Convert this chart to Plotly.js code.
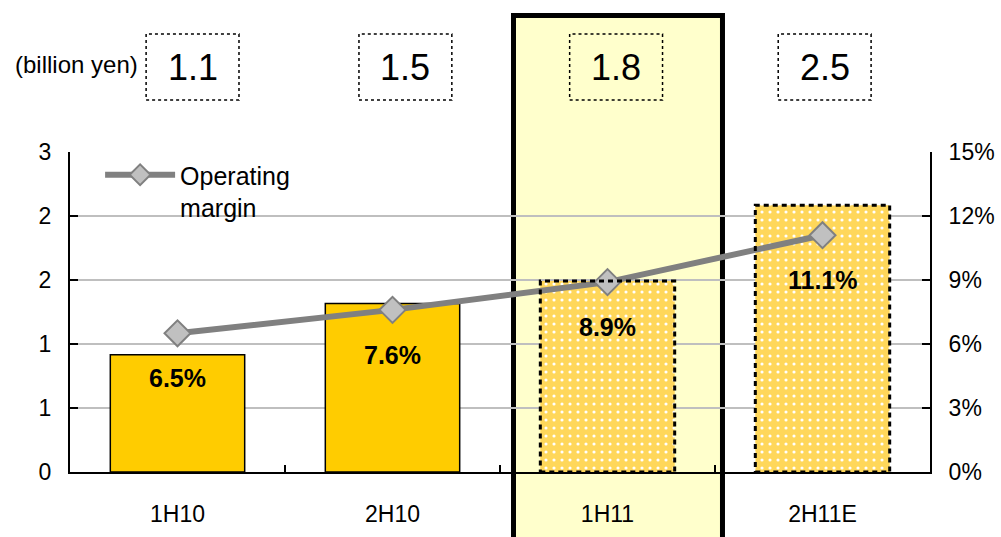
<!DOCTYPE html>
<html>
<head>
<meta charset="utf-8">
<script src="https://cdn.plot.ly/plotly-3.0.1.min.js"></script>
<style>html,body{margin:0;padding:0;background:#fff;}#chart{width:1001px;height:537px;}</style>
</head>
<body>
<div id="chart"></div>
<script>
// ---- data ----
const categories = ["1H10", "2H10", "1H11", "2H11E"];
const operatingProfit = [1.1, 1.58, 1.79, 2.5];      // bars (billion yen, left axis)
const operatingMargin = [6.5, 7.6, 8.9, 11.1];        // line (%, right axis)
const boxLabels = ["1.1", "1.5", "1.8", "2.5"];       // boxed values above chart
const forecastFlags = [false, false, true, true];     // patterned bars

// ---- layout constants ----
const FONT = "Liberation Sans, Arial, sans-serif";
const BAR_W = 0.625;
const boxOffsets = [0.07, 0.06, 0.04, 0.01];
const BOX_HALF_W = 0.216;

const solidIdx = [], patIdx = [];
forecastFlags.forEach((f, i) => (f ? patIdx : solidIdx).push(i));

const traces = [
  {
    type: "bar",
    x: solidIdx.map(i => categories[i]),
    y: solidIdx.map(i => operatingProfit[i]),
    width: BAR_W,
    marker: { color: "#FFCC00", line: { color: "#000", width: 1.5 } },
    showlegend: false, hoverinfo: "skip"
  },
  {
    type: "bar",
    x: patIdx.map(i => categories[i]),
    y: patIdx.map(i => operatingProfit[i]),
    width: BAR_W,
    marker: {
      color: "#FFD75A",
      line: { width: 0 },
      pattern: { shape: ".", fgcolor: "#FFFFFF", bgcolor: "#FFD75A", size: 8, solidity: 0.12 }
    },
    showlegend: false, hoverinfo: "skip"
  },
  {
    type: "scatter",
    mode: "lines+markers",
    name: "Operating<br>margin",
    x: categories,
    y: operatingMargin,
    yaxis: "y2",
    line: { color: "#808080", width: 6 },
    marker: { symbol: "diamond", size: 20, color: "#C0C0C0", line: { color: "#808080", width: 2 } },
    hoverinfo: "skip"
  }
];

const shapes = [
  // highlight column for 1H11
  { type: "rect", xref: "paper", yref: "paper", x0: 0.5157, x1: 0.7587, y0: -0.25, y1: 1.4266,
    fillcolor: "#FFFFCC", line: { color: "#000", width: 5 }, layer: "below" }
];
// dashed outlines for forecast bars
patIdx.forEach(i => {
  shapes.push({ type: "rect", xref: "x", yref: "y",
    x0: i - BAR_W / 2, x1: i + BAR_W / 2, y0: 0, y1: operatingProfit[i],
    line: { color: "#000", width: 3, dash: "5px,4px" }, fillcolor: "rgba(0,0,0,0)", layer: "above" });
});
// dotted boxes above chart
boxLabels.forEach((b, i) => {
  const c = i + boxOffsets[i];
  shapes.push({ type: "rect", xref: "x", yref: "paper",
    x0: c - BOX_HALF_W, x1: c + BOX_HALF_W, y0: 1.1625, y1: 1.369,
    line: { color: "#000", width: 1.5, dash: "dot" }, fillcolor: "rgba(0,0,0,0)", layer: "above" });
});

const annotations = [];
boxLabels.forEach((b, i) => {
  annotations.push({ xref: "x", yref: "paper", x: i + boxOffsets[i], y: 1.2656,
    text: b, showarrow: false, font: { family: FONT, size: 36, color: "#000" },
    xanchor: "center", yanchor: "middle" });
});
operatingMargin.forEach((m, i) => {
  annotations.push({ xref: "x", yref: "y2", x: i, y: m, yshift: -45,
    text: "<b>" + m.toFixed(1) + "%</b>", showarrow: false,
    font: { family: FONT, size: 25, color: "#000" }, xanchor: "center", yanchor: "middle" });
});
annotations.push({ xref: "paper", yref: "paper", x: 0.0814, y: 1.272, xanchor: "right", yanchor: "middle",
  text: "(billion yen)", showarrow: false, font: { family: FONT, size: 24, color: "#000" } });

const layout = {
  width: 1001, height: 537,
  margin: { l: 70, r: 71, t: 152, b: 65 },
  paper_bgcolor: "#FFFFFF",
  plot_bgcolor: "rgba(0,0,0,0)",
  font: { family: FONT, color: "#000" },
  barmode: "overlay",
  xaxis: {
    type: "category", range: [-0.5, 3.5], tickson: "boundaries",
    ticks: "inside", ticklen: 7, tickwidth: 2, tickcolor: "#000",
    showline: true, linecolor: "#000", linewidth: 2, showgrid: false,
    tickfont: { family: FONT, size: 23, color: "#000" }, ticklabelstandoff: 20
  },
  yaxis: {
    range: [0, 3], tick0: 0, dtick: 0.6, tickformat: ".0f",
    ticks: "inside", ticklen: 8, tickwidth: 2, tickcolor: "#000",
    showline: true, linecolor: "#000", linewidth: 2,
    showgrid: true, gridcolor: "#BFBFBF", gridwidth: 1.5, zeroline: false,
    tickfont: { family: FONT, size: 23, color: "#000" }, ticklabelstandoff: 12
  },
  yaxis2: {
    overlaying: "y", side: "right", range: [0, 15], tick0: 0, dtick: 3, ticksuffix: "%",
    ticks: "inside", ticklen: 8, tickwidth: 2, tickcolor: "#000",
    showline: true, linecolor: "#000", linewidth: 2, showgrid: false, zeroline: false,
    tickfont: { family: FONT, size: 23, color: "#000" }, ticklabelstandoff: 12
  },
  showlegend: true,
  legend: { x: 0.035, y: 1.0, xanchor: "left", yanchor: "top", bgcolor: "rgba(0,0,0,0)",
    itemwidth: 70, valign: "top", font: { family: FONT, size: 25, color: "#000" } },
  shapes: shapes,
  annotations: annotations
};

Plotly.newPlot("chart", traces, layout, { staticPlot: true, displayModeBar: false });
</script>
</body>
</html>
